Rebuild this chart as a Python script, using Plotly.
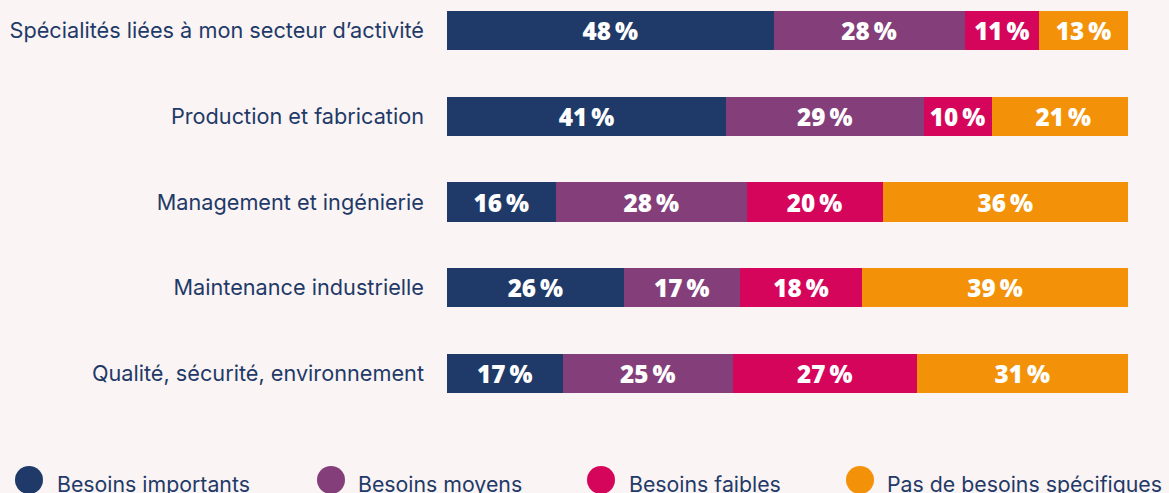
import plotly.graph_objects as go

categories = [
    "Spécialités liées à mon secteur d’activité",
    "Production et fabrication",
    "Management et ingénierie",
    "Maintenance industrielle",
    "Qualité, sécurité, environnement",
]
series_names = ["Besoins importants", "Besoins moyens", "Besoins faibles", "Pas de besoins spécifiques"]
important = [48, 41, 16, 26, 17]
moyens = [28, 29, 28, 17, 25]
faibles = [11, 10, 20, 18, 27]
pas_de_besoins = [13, 21, 36, 39, 31]
colors = ["#1f3a68", "#843f7b", "#d5055b", "#f39208"]

W, H = 1169, 493
ML, MR, MT, MB = 447, 41, 0, 73
PW, PH = W - ML - MR, H - MT - MB
BG = "#faf4f4"
NAVY = "#1f3a68"
FONT = "Inter, 'Noto Sans', sans-serif"

def px_to_paper(px, py):
    return (px - ML) / PW, (H - MB - py) / PH

fig = go.Figure()
for name, vals, col in zip(series_names, [important, moyens, faibles, pas_de_besoins], colors):
    fig.add_trace(go.Bar(
        y=categories, x=vals, name=name, orientation="h",
        marker=dict(color=col, line=dict(width=0)),
        width=0.455,
        text=vals, texttemplate="%{text}\u2009%", textposition="inside",
        insidetextanchor="middle",
        textfont=dict(color="white", size=25, family="'Open Sans', sans-serif", weight=800),
        showlegend=False, hoverinfo="skip",
    ))

# category pixel geometry: first center at 30.5, step 85.75
step = 85.75
top_val = -30.5 / step
bot_val = (PH - 30.5) / step

fig.update_layout(
    width=W, height=H,
    barmode="stack",
    paper_bgcolor=BG, plot_bgcolor=BG,
    margin=dict(l=ML, r=MR, t=MT, b=MB),
    showlegend=False,
    xaxis=dict(range=[0, 100], visible=False, fixedrange=True),
    yaxis=dict(
        categoryorder="array", categoryarray=categories,
        range=[bot_val, top_val],
        showgrid=False, zeroline=False, showline=False, ticks="",
        ticklabelstandoff=22, fixedrange=True,
        tickfont=dict(size=21.7, color=NAVY, family=FONT),
    ),
)

# custom legend with large circles
legend_x = [29, 331, 601, 860]
legend_tx = [55, 356, 627, 885]
legend_cy = 480
r = 14
for name, col, cx, txp in zip(series_names, colors, legend_x, legend_tx):
    x0, y0 = px_to_paper(cx - r, legend_cy + r)
    x1, y1 = px_to_paper(cx + r, legend_cy - r)
    fig.add_shape(type="circle", xref="paper", yref="paper", x0=x0, x1=x1, y0=y0, y1=y1,
                  fillcolor=col, line=dict(width=0))
    tx, ty = px_to_paper(txp, legend_cy + 4)
    fig.add_annotation(x=tx, y=ty, xref="paper", yref="paper", text=name, showarrow=False,
                       xanchor="left", yanchor="middle",
                       font=dict(size=21.3, color=NAVY, family=FONT))

fig.write_html(
    "out.html",
    config={"displayModeBar": False},
    post_script="document.body.style.margin='0';document.body.style.background='%s';" % BG,
)
